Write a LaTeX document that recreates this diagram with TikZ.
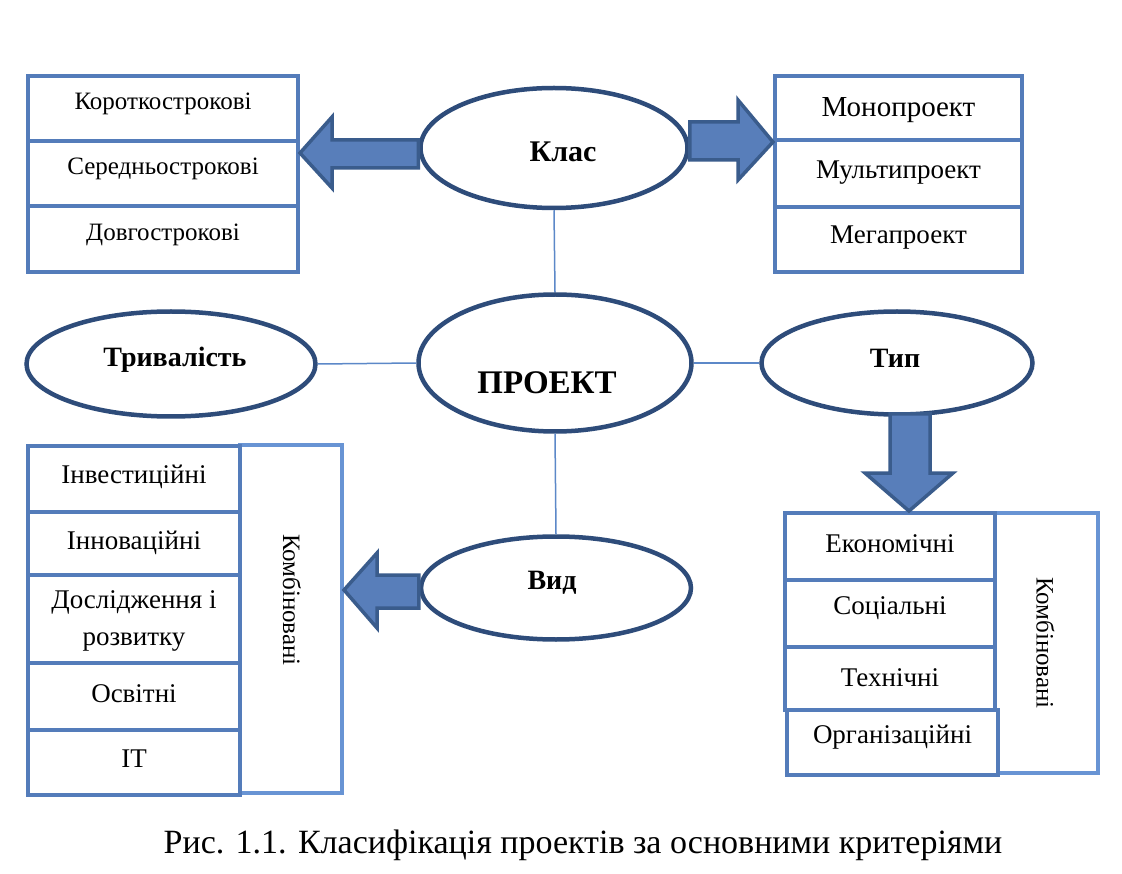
\documentclass[tikz,border=0pt]{standalone}
\usepackage{fontspec}
\setmainfont{Liberation Serif}
\usetikzlibrary{shapes.geometric}
\definecolor{rowblue}{RGB}{84,124,186}
\definecolor{combblue}{RGB}{104,148,212}
\definecolor{ellblue}{RGB}{46,76,122}
\definecolor{arrfill}{RGB}{88,126,186}
\definecolor{arredge}{RGB}{58,92,140}
\definecolor{linkblue}{RGB}{92,136,200}
\tikzset{
  rowbox/.style={draw=rowblue, line width=4pt, fill=white, inner sep=0pt},
  combbox/.style={draw=combblue, line width=4pt, fill=white, inner sep=0pt},
  oval/.style={ellipse, draw=ellblue, line width=4.5pt, fill=white, inner sep=0pt},
  link/.style={draw=linkblue, line width=1.5pt},
  barrow/.style={draw=arredge, fill=arrfill, line width=3.5pt, line join=miter},
  txt/.style={font=\fontsize{#1}{#1}\selectfont, inner sep=0pt},
  btxt/.style={font=\fontsize{#1}{#1}\selectfont\bfseries, inner sep=0pt}
}
\begin{document}
\begin{tikzpicture}[x=1pt,y=-1pt]
\useasboundingbox[fill=white] (0,0) rectangle (1122,874);

% ---------- ellipses ----------
\node[oval, minimum width=267pt, minimum height=120pt] (klas) at (554,148) {};
\node[oval, minimum width=273pt, minimum height=137pt] (proj) at (555,363) {};
\node[oval, minimum width=289pt, minimum height=105pt] (triv) at (171,364) {};
\node[oval, minimum width=271pt, minimum height=103pt] (typ) at (897,363) {};
\node[oval, minimum width=270pt, minimum height=103pt] (vyd) at (556,588) {};

\node[btxt=30] (tklas) at ([xshift=9pt,yshift=-4pt]klas.center) {Клас};
\node[btxt=33] (tproj) at ([xshift=-8pt,yshift=-20pt]proj.center) {ПРОЕКТ};
\node[btxt=28] (ttriv) at ([xshift=4pt,yshift=4pt]triv.center) {Тривалість};
\node[btxt=28] (ttyp) at ([xshift=-2pt,yshift=5pt]typ.center) {Тип};
\node[btxt=28] (tvyd) at ([xshift=-4pt,yshift=5pt]vyd.center) {Вид};

% ---------- connecting lines ----------
\draw[link] (klas.south) -- (proj.north);
\draw[link] (proj.west) -- (triv.east);
\draw[link] (proj.east) -- (typ.west);
\draw[link] (proj.south) -- (vyd.north);

% ---------- top-left box ----------
\node[rowbox, minimum width=270pt, minimum height=65pt] (tl1) at (163,108.5) {};
\node[rowbox, minimum width=270pt, minimum height=65pt] (tl2) at (163,173.5) {};
\node[rowbox, minimum width=270pt, minimum height=66pt] (tl3) at (163,239) {};
\node[txt=25] (ttl1) at ([yshift=5pt]tl1.center) {Короткострокові};
\node[txt=25] (ttl2) at ([yshift=5pt]tl2.center) {Середньострокові};
\node[txt=25] (ttl3) at ([yshift=4pt]tl3.center) {Довгострокові};

% ---------- top-right box ----------
\node[rowbox, minimum width=247pt, minimum height=64pt] (tr1) at (898.5,108) {};
\node[rowbox, minimum width=247pt, minimum height=67pt] (tr2) at (898.5,173.5) {};
\node[rowbox, minimum width=247pt, minimum height=65pt] (tr3) at (898.5,239.5) {};
\node[txt=29] (ttr1) at ([yshift=-2pt]tr1.center) {Монопроект};
\node[txt=27] (ttr2) at ([yshift=1pt]tr2.center) {Мультипроект};
\node[txt=27] (ttr3) at ([yshift=2pt]tr3.center) {Мегапроект};

% ---------- bottom-left box ----------
\node[combbox, minimum width=102pt, minimum height=348pt] (blc) at (291,619) {};
\node[rowbox, minimum width=212pt, minimum height=66pt] (bl1) at (134,479) {};
\node[rowbox, minimum width=212pt, minimum height=63pt] (bl2) at (134,543.5) {};
\node[rowbox, minimum width=212pt, minimum height=88pt] (bl3) at (134,619) {};
\node[rowbox, minimum width=212pt, minimum height=67pt] (bl4) at (134,696.5) {};
\node[rowbox, minimum width=212pt, minimum height=65pt] (bl5) at (134,762.5) {};
\node[txt=27] (tbl1) at ([yshift=2pt]bl1.center) {Інвестиційні};
\node[txt=27] (tbl2) at ([yshift=1pt]bl2.center) {Інноваційні};
\node[font=\fontsize{27}{37}\selectfont, inner sep=0pt, align=center] (tbl3) at ([yshift=-2pt]bl3.center) {Дослідження і\\розвитку};
\node[txt=27] (tbl4) at ([yshift=3pt]bl4.center) {Освітні};
\node[txt=27] (tbl5) at ([yshift=4pt]bl5.center) {IT};
\node[txt=25, rotate=-90] (tblc) at ([xshift=1pt,yshift=19pt]blc.center) {Комбіновані};

% ---------- bottom-right box ----------
\node[combbox, minimum width=103pt, minimum height=260pt] (brc) at (1046.5,643) {};
\node[rowbox, minimum width=210pt, minimum height=67pt] (br1) at (890,546.5) {};
\node[rowbox, minimum width=210pt, minimum height=67pt] (br2) at (890,613.5) {};
\node[rowbox, minimum width=210pt, minimum height=63pt] (br3) at (890,678.5) {};
\node[rowbox, minimum width=211pt, minimum height=65pt] (br4) at (892.5,742.5) {};
\node[txt=27] (tbr1) at ([yshift=3pt]br1.center) {Економічні};
\node[txt=27] (tbr2) at ([yshift=5pt]br2.center) {Соціальні};
\node[txt=27] (tbr3) at ([yshift=1pt]br3.center) {Технічні};
\node[txt=27] (tbr4) at ([yshift=5pt]br4.center) {Організаційні};
\node[txt=25, rotate=-90] (tbrc) at ([xshift=-1pt]brc.center) {Комбіновані};

% ---------- block arrows ----------
% Клас -> left box
\draw[barrow] (klas.west |- 0,140) -- (332,140) -- (332,117) -- (tl2.east |- 0,153)
  -- (332,188) -- (332,168) -- (klas.west |- 0,168) -- cycle;
% Клас -> right box
\draw[barrow] (klas.east |- 0,122) -- (738,122) -- (738,100) -- (tr1.south west)
  -- (738,180) -- (738,160) -- (klas.east |- 0,160) -- cycle;
% Тип -> bottom-right box
\draw[barrow] (890,414) -- (890,473) -- (865,473) -- (br1.north -| 909,0)
  -- (953,473) -- (930,473) -- (930,414) -- cycle;
% Вид -> bottom-left box
\draw[barrow] (vyd.west |- 0,575) -- (377,575) -- (377,553) -- (blc.east |- 0,590)
  -- (377,628) -- (377,608) -- (vyd.west |- 0,608) -- cycle;

% ---------- caption ----------
\node[txt=34, anchor=base] (cap) at (583,853) {Рис. 1.1. Класифікація проектів за основними критеріями};
\end{tikzpicture}
\end{document}
